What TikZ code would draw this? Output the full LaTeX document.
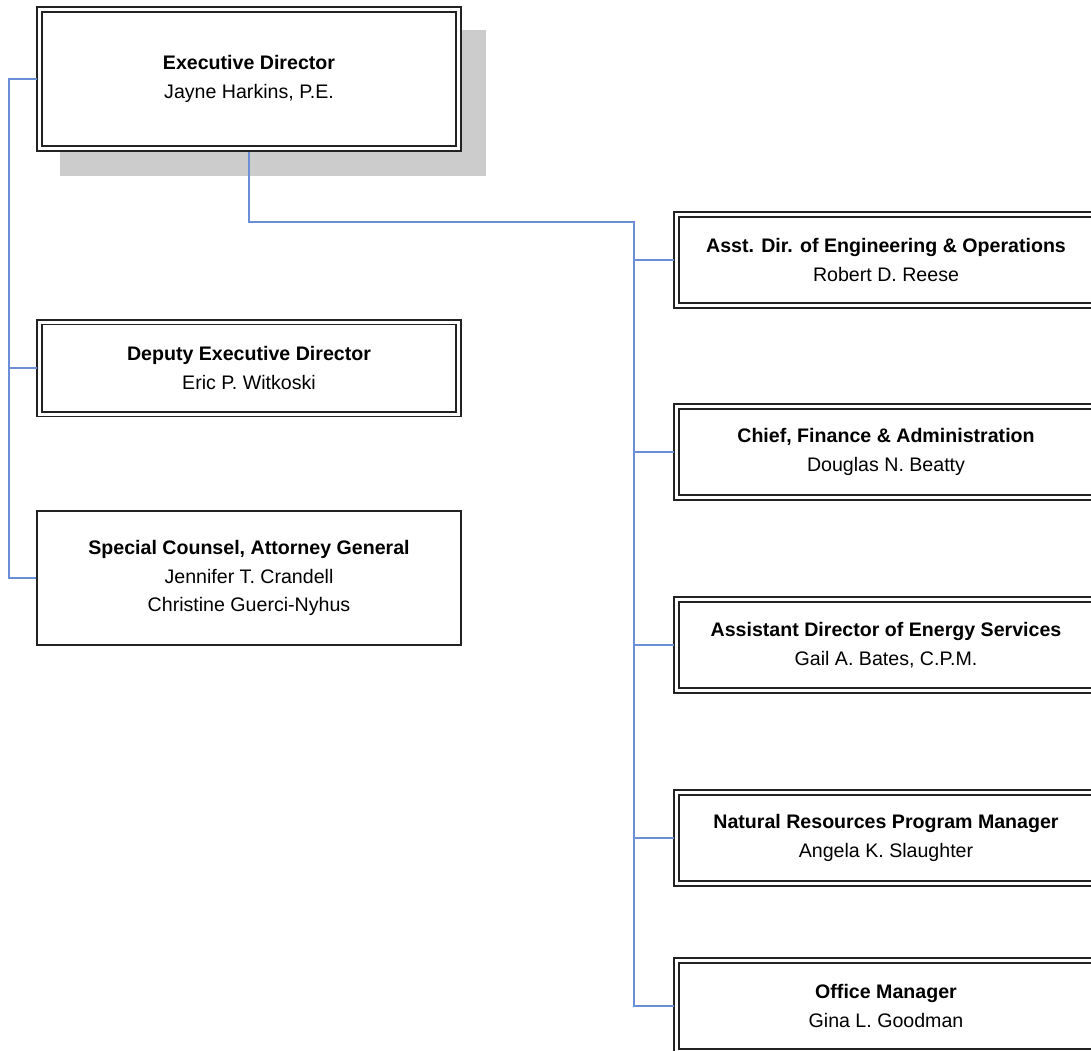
\documentclass[tikz,border=0pt]{standalone}
\usepackage{fontspec}
\setmainfont{Liberation Sans}
\definecolor{connblue}{HTML}{6B8FD6}
\definecolor{boxline}{HTML}{222222}
\definecolor{shadowgray}{HTML}{CCCCCC}
\begin{document}
\begin{tikzpicture}[x=1pt,y=-1pt,
  txt/.style={align=center,font=\fontsize{19.6}{28.7}\selectfont,text=black,inner sep=0pt},
  dbox/.style={txt,draw=boxline,fill=white,double=white,double distance=3pt,line width=1.6pt,
               minimum width=419pt,minimum height=91pt,outer sep=3pt},
  sbox/.style={txt,draw=boxline,fill=white,line width=1.5pt,
               minimum width=424pt,minimum height=134pt,outer sep=0.75pt},
  conn/.style={draw=connblue,line width=1.6pt}]
\useasboundingbox (0,0) rectangle (1091,1050);
\clip (0,0) rectangle (1091,1050);
\fill[shadowgray] (60,30) rectangle (486,176);
% nodes
\node[dbox,minimum height=139pt] (exec) at (249,79) {\textbf{Executive Director}\\Jayne Harkins, P.E.};
\node[dbox,minimum height=92pt] (dep) at (249,368) {\textbf{Deputy Executive Director}\\Eric P. Witkoski};
\node[sbox] (spec) at (249,578) {\textbf{Special Counsel, Attorney General}\\Jennifer T. Crandell\\Christine Guerci-Nyhus};
\node[dbox] (r1) at (886,260) {\textbf{Asst. Dir. of Engineering \& Operations}\\Robert D. Reese};
\node[dbox] (r2) at (886,452) {\textbf{Chief, Finance \& Administration}\\Douglas N. Beatty};
\node[dbox] (r3) at (886,645) {\textbf{Assistant Director of Energy Services}\\Gail A. Bates, C.P.M.};
\node[dbox] (r4) at (886,838) {\textbf{Natural Resources Program Manager}\\Angela K. Slaughter};
\node[dbox] (r5) at (886,1006) {\textbf{Office Manager}\\Gina L. Goodman};
% connectors
\coordinate (lbus) at (9,79);
\coordinate (rbus) at (634,222);
\draw[conn] (exec.west) -- (lbus) |- (spec.west);
\draw[conn] (dep.west) -- (dep.west -| lbus);
\draw[conn] (exec.south) |- (rbus) |- (r5.west);
\draw[conn] (r1.west) -- (r1.west -| rbus);
\draw[conn] (r2.west) -- (r2.west -| rbus);
\draw[conn] (r3.west) -- (r3.west -| rbus);
\draw[conn] (r4.west) -- (r4.west -| rbus);
\end{tikzpicture}
\end{document}
